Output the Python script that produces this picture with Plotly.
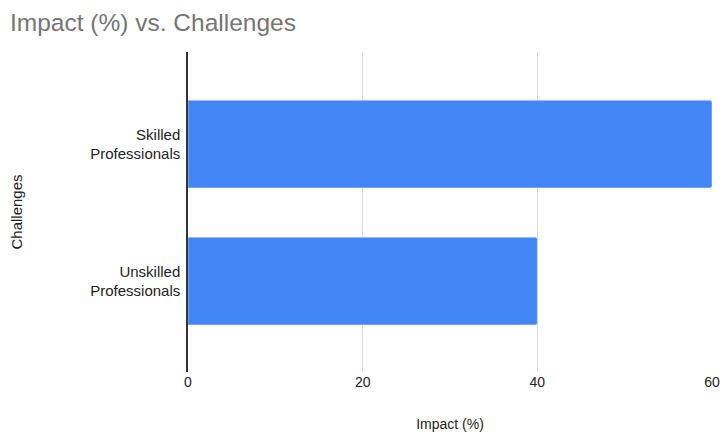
import plotly.graph_objects as go

categories = ["Skilled<br>Professionals", "Unskilled<br>Professionals"]
impact = [60, 40]
x_ticks = [0, 20, 40, 60]

fig = go.Figure(go.Bar(
    x=impact, y=categories, orientation="h",
    marker=dict(color="#4285F4", cornerradius=2),
    width=0.64,
))

fig.update_layout(
    width=723, height=432,
    margin=dict(l=188, r=11, t=52, b=60),
    paper_bgcolor="white", plot_bgcolor="white",
    font=dict(family="Liberation Sans, Arial, sans-serif", size=14, color="#222222"),
    title=dict(text="Impact (%) vs. Challenges", x=0.0138, xanchor="left",
               y=0.949, yanchor="middle", automargin=False,
               font=dict(size=24.5, color="#757575")),
    showlegend=False,
)
fig.update_xaxes(
    range=[0, 60], tickvals=x_ticks, ticktext=[str(v) for v in x_ticks],
    showgrid=True, gridcolor="#d9d9d9", gridwidth=1,
    zeroline=False, showline=False, ticks="", automargin=False,
    tickfont=dict(size=14, color="#222222"),
    title=dict(text="Impact (%)", font=dict(size=14, color="#222222"), standoff=30),
)
fig.update_yaxes(
    type="category", categoryorder="array", categoryarray=categories,
    range=[1.664, -0.672], automargin=False,
    showgrid=False, zeroline=False,
    showline=True, linecolor="#333333", linewidth=1.5,
    ticks="", ticklabelstandoff=3,
    tickfont=dict(size=15, color="#222222"),
    title=dict(text="Challenges", font=dict(size=15, color="#222222"), standoff=64),
)

fig.write_html(
    "out.html",
    config={"displayModeBar": False},
    post_script="document.body.style.margin='0';document.body.style.overflow='hidden';",
)
